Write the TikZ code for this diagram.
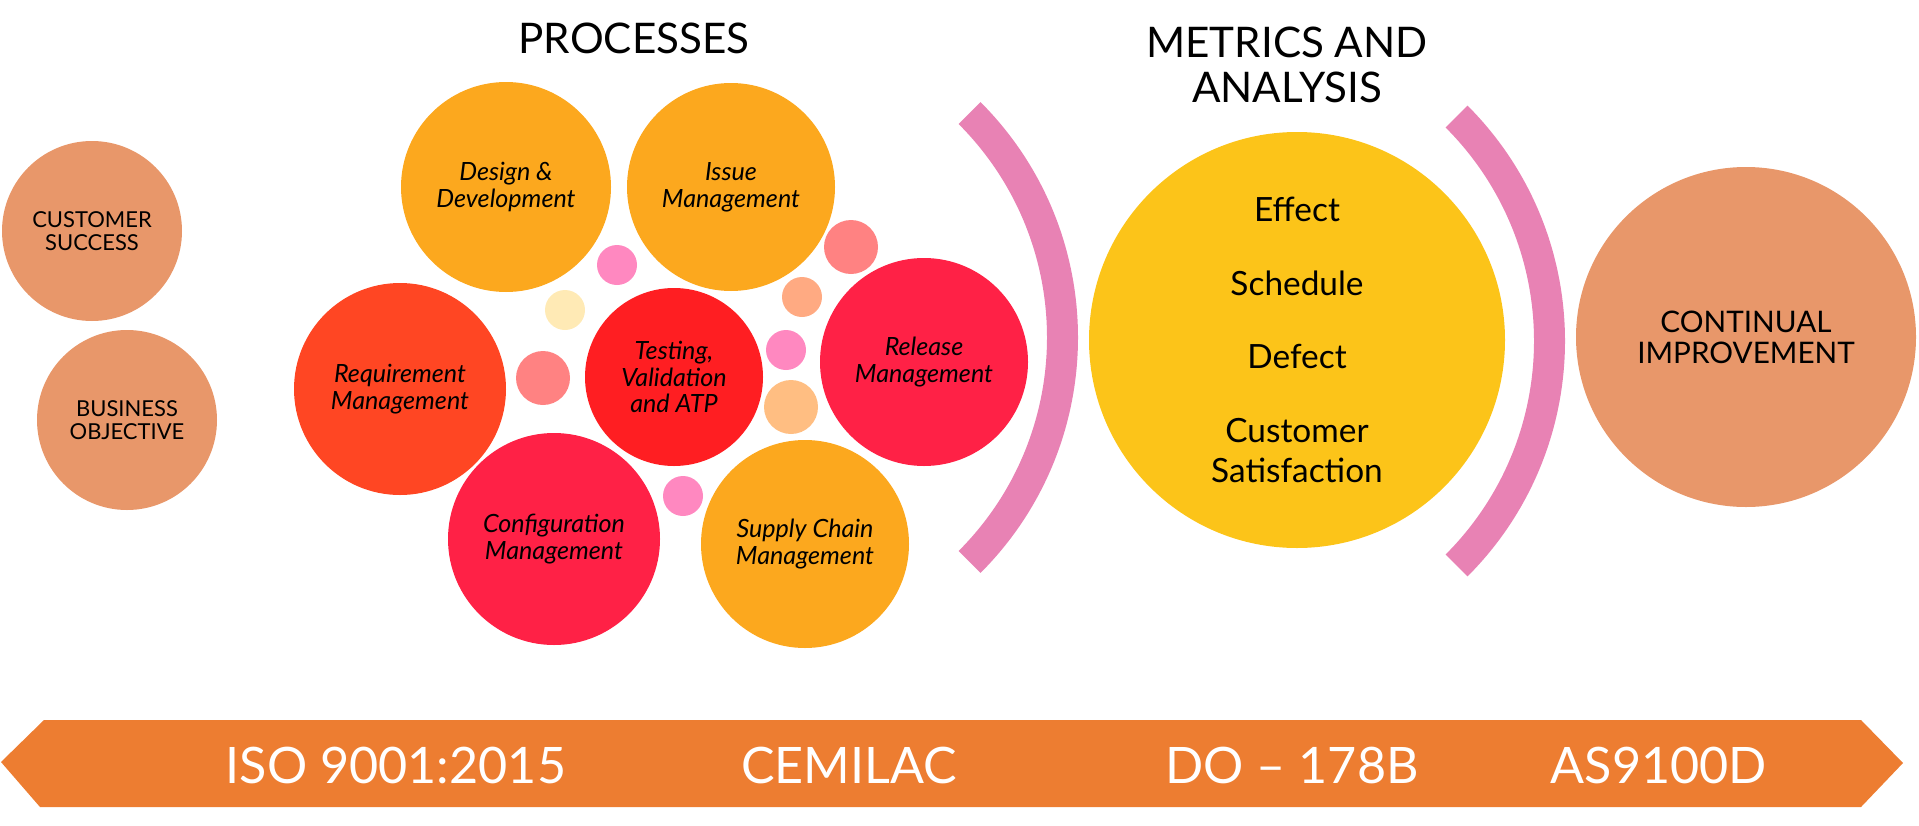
\documentclass[tikz,border=0pt]{standalone}
\usepackage{fontspec}
\setmainfont{Lato}
\usetikzlibrary{calc}
\definecolor{tanfill}{HTML}{E8976A}
\definecolor{goldfill}{HTML}{FCA81E}
\definecolor{reqfill}{HTML}{FF4623}
\definecolor{testfill}{HTML}{FF1E22}
\definecolor{relfill}{HTML}{FF2146}
\definecolor{metfill}{HTML}{FCC419}
\definecolor{arcfill}{HTML}{E882B4}
\definecolor{bandfill}{HTML}{ED7D31}
\definecolor{pinkspot}{HTML}{FF88C0}
\definecolor{creamspot}{HTML}{FFEAB5}
\definecolor{salmonspot}{HTML}{FF8282}
\definecolor{peachspot}{HTML}{FFAA82}
\definecolor{apricotspot}{HTML}{FFBE82}

\begin{document}
\begin{tikzpicture}[x=0.2mm, y=-0.2mm,
    bubble/.style={circle, inner sep=0pt, minimum size=#1*0.4mm, align=center},
    spot/.style={circle, inner sep=0pt, minimum size=#1*0.4mm},
    proc/.style={font=\fontsize{14.3}{15.2}\selectfont\itshape},
    caps/.style={font=\fontsize{12.5}{13.2}\selectfont},
    head/.style={font=\fontsize{24}{25.6}\selectfont, align=center, inner sep=0pt},
    std/.style={font=\fontsize{28.6}{30}\selectfont, text=white, inner sep=0pt, anchor=base}]
    \useasboundingbox (0,0) rectangle (1919,825);
    \node[bubble=90, fill=tanfill, caps] (cust) at (92,231) {CUSTOMER\\SUCCESS};
    \node[bubble=90, fill=tanfill, caps] (biz) at (127,420) {BUSINESS\\OBJECTIVE};
    \node[head, anchor=base] (proctitle) at (634,53) {PROCESSES};
    \node[bubble=105, fill=goldfill, proc] (design) at (506,187) {Design \&\\Development};
    \node[bubble=104, fill=goldfill, proc] (issue) at (731,187) {Issue\\Management};
    \node[bubble=106, fill=reqfill, proc] (req) at (400,389) {Requirement\\Management};
    \node[bubble=89, fill=testfill, proc] (test) at (674,377) {Testing,\\Validation\\and ATP};
    \node[bubble=104, fill=relfill, proc] (rel) at (924,362) {Release\\Management};
    \node[bubble=106, fill=relfill, proc] (conf) at (554,539) {Configuration\\Management};
    \node[bubble=104, fill=goldfill, proc] (supply) at (805,544) {Supply Chain\\Management};
    \node[spot=20, fill=pinkspot] (s1) at (617,265) {};
    \node[spot=20, fill=creamspot] (s2) at (565,310) {};
    \node[spot=27, fill=salmonspot] (s3) at (851,247) {};
    \node[spot=20, fill=peachspot] (s4) at (802,297) {};
    \node[spot=20, fill=pinkspot] (s5) at (786,350) {};
    \node[spot=27, fill=apricotspot] (s6) at (791,407) {};
    \node[spot=27, fill=salmonspot] (s7) at (543,378) {};
    \node[spot=20, fill=pinkspot] (s8) at (683,496) {};
    \coordinate (arcL) at (745,337.5);
    \coordinate (arcR) at (1232,341);
    \foreach \c in {arcL,arcR}
        \fill[arcfill] ($(\c)+(45:333)$) arc[start angle=45, end angle=-45, radius=333]
            -- ($(\c)+(-45:302)$) arc[start angle=-45, end angle=45, radius=302] -- cycle;
    \node[head] (mettitle) at (1287,65) {METRICS AND\\ANALYSIS};
    \node[bubble=208, fill=metfill, font=\fontsize{19}{22.8}\selectfont] (metrics) at (1297,340)
        {Effect\\[19pt]Schedule\\[19pt]Defect\\[19pt]Customer\\Satisfaction};
    \node[bubble=170, fill=tanfill, font=\fontsize{16.9}{17.6}\selectfont] (cont) at (1746,337) {CONTINUAL\\IMPROVEMENT};
    \fill[bandfill] (1,762) -- (44,720) -- (1861,720) -- (1903,763) -- (1861,807) -- (40,807) -- cycle;
    \node[std] (iso) at (396,783) {ISO 9001:2015};
    \node[std] (cemilac) at (849,783) {CEMILAC};
    \node[std] (do) at (1292,783) {DO – 178B};
    \node[std] (as) at (1659,783) {AS9100D};
\end{tikzpicture}
\end{document}
